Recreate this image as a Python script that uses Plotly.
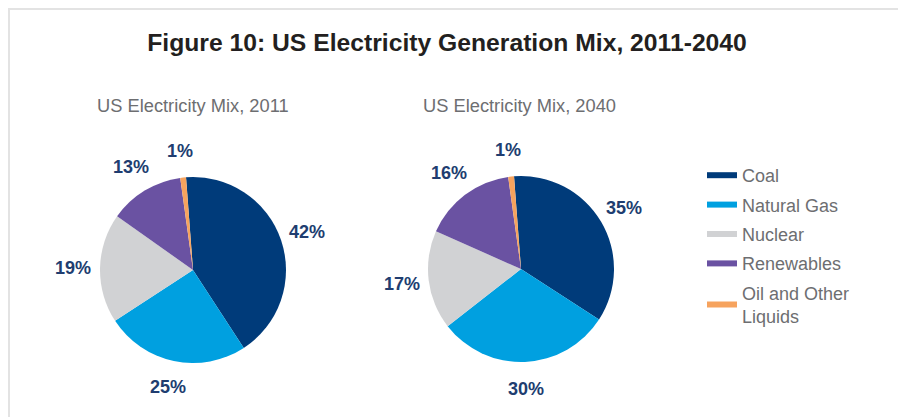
import math
import plotly.graph_objects as go

categories = ["Coal", "Natural Gas", "Nuclear", "Renewables", "Oil and Other Liquids"]
legend_labels = ["Coal", "Natural Gas", "Nuclear", "Renewables", "Oil and Other<br>Liquids"]
values_2011 = [42, 25, 19, 13, 1]
values_2040 = [35, 30, 17, 16, 1]
colors = ["#003b7a", "#00a0e0", "#d1d2d4", "#6a52a2", "#f6a35e"]

W, H = 906, 417
FONT = "Liberation Sans, Arial, sans-serif"
ROT = -4.3          # start angle of the first slice (degrees, clockwise from 12 o'clock)
R = 93              # pie radius (px)
LABEL_R = 120       # label distance from pie centre (px)

def px_x(x):
    return x / W

def px_y(y):
    return 1 - y / H

fig = go.Figure()
annotations = []

pies = [(values_2011, 185, 262), (values_2040, 513, 261)]
for vals, cx, cy in pies:
    fig.add_trace(go.Pie(
        labels=categories, values=vals, sort=False, direction="clockwise", rotation=ROT,
        marker=dict(colors=colors, line=dict(width=0)),
        textinfo="none",
        domain=dict(x=[px_x(cx - R), px_x(cx + R)], y=[px_y(cy + R), px_y(cy - R)]),
        showlegend=False, hoverinfo="label+percent",
    ))
    total = sum(vals)
    cum = 0
    for v in vals:
        mid = math.radians(ROT + 360 * (cum + v / 2) / total)
        cum += v
        lx = cx + LABEL_R * math.sin(mid)
        ly = cy - LABEL_R * math.cos(mid)
        annotations.append(dict(
            text="<b>%d%%</b>" % round(100 * v / total), x=px_x(lx), y=px_y(ly),
            xref="paper", yref="paper", xanchor="center", yanchor="middle", showarrow=False,
            font=dict(family=FONT, size=18, color="#203d70")))

# legend entries (line symbols)
for lab, col in zip(legend_labels, colors):
    fig.add_trace(go.Scatter(
        x=[None], y=[None], mode="lines", name=lab, legendgroup=lab,
        line=dict(color=col, width=6), showlegend=True,
    ))

annotations += [
    dict(text="US Electricity Mix, 2011", x=px_x(184.5), y=px_y(97), xref="paper", yref="paper",
         xanchor="center", yanchor="middle", showarrow=False,
         font=dict(family=FONT, size=18.3, color="#6d6e71")),
    dict(text="US Electricity Mix, 2040", x=px_x(511.5), y=px_y(97), xref="paper", yref="paper",
         xanchor="center", yanchor="middle", showarrow=False,
         font=dict(family=FONT, size=18.3, color="#6d6e71")),
]

fig.update_layout(
    width=W, height=H,
    margin=dict(l=0, r=0, t=0, b=0),
    paper_bgcolor="white", plot_bgcolor="white",
    xaxis=dict(visible=False), yaxis=dict(visible=False),
    title=dict(text="<b>Figure 10: US Electricity Generation Mix, 2011-2040</b>",
               x=px_x(439), xanchor="center", y=px_y(34), yanchor="middle",
               font=dict(family=FONT, size=24.7, color="#231f20")),
    legend=dict(x=px_x(694), xanchor="left", y=px_y(149), yanchor="top",
                font=dict(family=FONT, size=18, color="#6d6e71"),
                tracegroupgap=3, bgcolor="rgba(0,0,0,0)"),
    annotations=annotations,
    shapes=[dict(type="rect", xref="paper", yref="paper",
                 x0=px_x(1), x1=px_x(894.5), y0=-0.1, y1=px_y(1),
                 line=dict(color="#e3e3e3", width=2), fillcolor="rgba(0,0,0,0)", layer="below")],
)

fig.write_html("out.html")
